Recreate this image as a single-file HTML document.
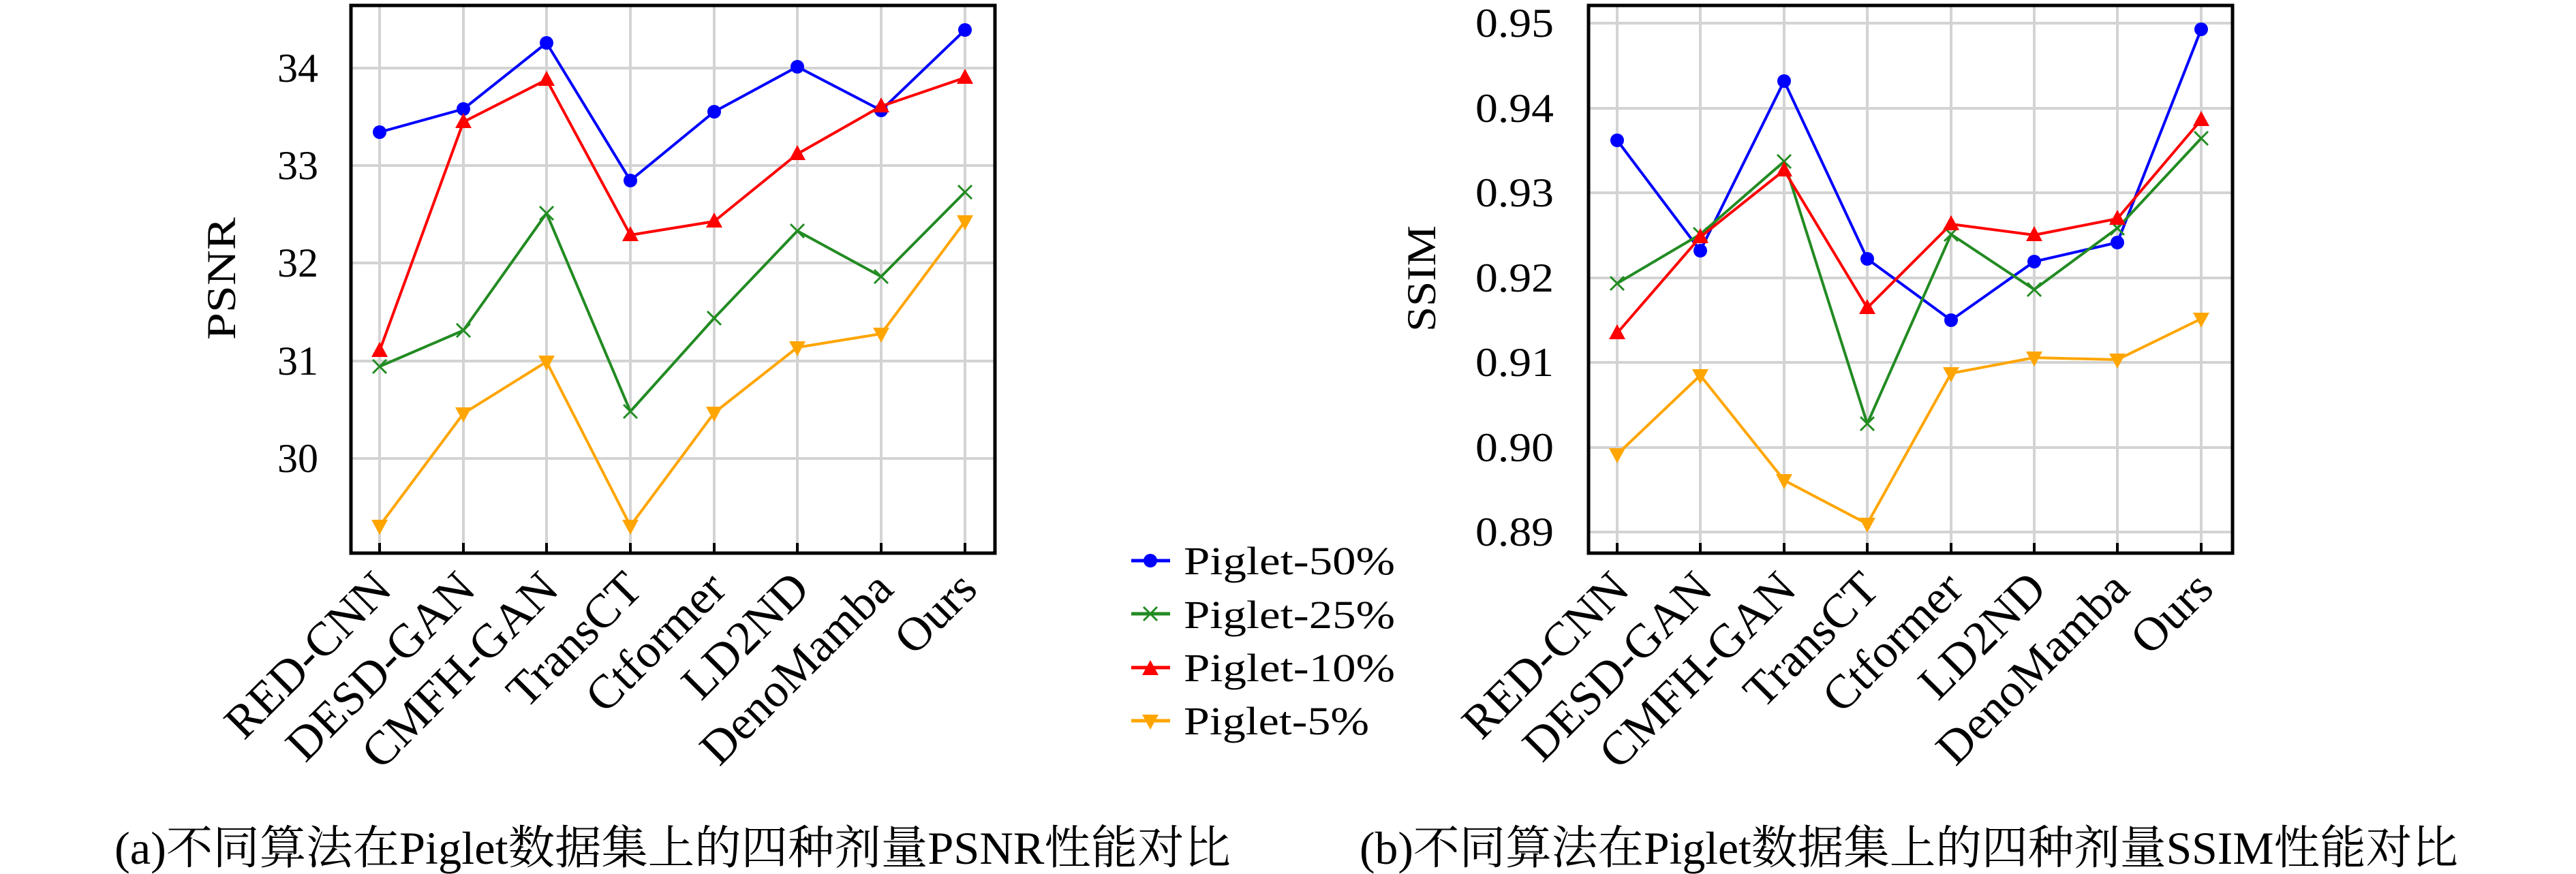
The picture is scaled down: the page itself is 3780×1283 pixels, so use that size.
<!DOCTYPE html>
<html><head><meta charset="utf-8"><style>
html,body{margin:0;padding:0;background:#fff;}
svg{display:block;}
text{font-family:"Liberation Serif","Noto Serif CJK SC",serif;fill:#000;}
</style></head><body>
<svg width="3780" height="1283" viewBox="0 0 3780 1283" xmlns="http://www.w3.org/2000/svg">
<defs>
<circle id="mb" r="10" fill="#0000ff"/>
<g id="mg" stroke="#228b22" stroke-width="3"><line x1="-10" y1="-10" x2="10" y2="10"/><line x1="-10" y1="10" x2="10" y2="-10"/></g>
<polygon id="mr" points="0,-13 12,9 -12,9" fill="#ff0000"/>
<polygon id="my" points="0,13 12,-9 -12,-9" fill="#ffa500"/>
</defs>

<!-- LEFT PLOT -->
<g stroke="#d3d3d3" stroke-width="4">
<line x1="557" y1="8" x2="557" y2="812"/><line x1="680" y1="8" x2="680" y2="812"/><line x1="802" y1="8" x2="802" y2="812"/><line x1="925" y1="8" x2="925" y2="812"/><line x1="1048" y1="8" x2="1048" y2="812"/><line x1="1170" y1="8" x2="1170" y2="812"/><line x1="1293" y1="8" x2="1293" y2="812"/><line x1="1416" y1="8" x2="1416" y2="812"/>
<line x1="515" y1="100" x2="1460" y2="100"/><line x1="515" y1="243" x2="1460" y2="243"/><line x1="515" y1="386" x2="1460" y2="386"/><line x1="515" y1="530" x2="1460" y2="530"/><line x1="515" y1="673" x2="1460" y2="673"/>
</g>
<g fill="none" stroke-width="4" stroke-linejoin="round">
<polyline stroke="#0000ff" points="557,194 680,160 802,63 925,265 1048,164 1170,98 1293,162 1416,44"/>
<polyline stroke="#228b22" points="557,538 680,485 802,313 925,604 1048,467 1170,339 1293,406 1416,282"/>
<polyline stroke="#ff0000" points="557,515 680,179 802,117 925,345 1048,325 1170,226 1293,156 1416,114"/>
<polyline stroke="#ffa500" points="557,772 680,607 802,531 925,772 1048,606 1170,510 1293,490 1416,325"/>
</g>
<use href="#mb" x="557" y="194"/><use href="#mb" x="680" y="160"/><use href="#mb" x="802" y="63"/><use href="#mb" x="925" y="265"/><use href="#mb" x="1048" y="164"/><use href="#mb" x="1170" y="98"/><use href="#mb" x="1293" y="162"/><use href="#mb" x="1416" y="44"/>
<use href="#mg" x="557" y="538"/><use href="#mg" x="680" y="485"/><use href="#mg" x="802" y="313"/><use href="#mg" x="925" y="604"/><use href="#mg" x="1048" y="467"/><use href="#mg" x="1170" y="339"/><use href="#mg" x="1293" y="406"/><use href="#mg" x="1416" y="282"/>
<use href="#mr" x="557" y="515"/><use href="#mr" x="680" y="179"/><use href="#mr" x="802" y="117"/><use href="#mr" x="925" y="345"/><use href="#mr" x="1048" y="325"/><use href="#mr" x="1170" y="226"/><use href="#mr" x="1293" y="156"/><use href="#mr" x="1416" y="114"/>
<use href="#my" x="557" y="772"/><use href="#my" x="680" y="607"/><use href="#my" x="802" y="531"/><use href="#my" x="925" y="772"/><use href="#my" x="1048" y="606"/><use href="#my" x="1170" y="510"/><use href="#my" x="1293" y="490"/><use href="#my" x="1416" y="325"/>
<rect x="515" y="8" width="945" height="804" fill="none" stroke="#000" stroke-width="5"/>
<g stroke="#000" stroke-width="4">
<line x1="557" y1="812" x2="557" y2="797"/><line x1="680" y1="812" x2="680" y2="797"/><line x1="802" y1="812" x2="802" y2="797"/><line x1="925" y1="812" x2="925" y2="797"/><line x1="1048" y1="812" x2="1048" y2="797"/><line x1="1170" y1="812" x2="1170" y2="797"/><line x1="1293" y1="812" x2="1293" y2="797"/><line x1="1416" y1="812" x2="1416" y2="797"/>
</g>
<g font-size="60" text-anchor="end">
<text x="467" y="120">34</text><text x="467" y="263">33</text><text x="467" y="406">32</text><text x="467" y="550">31</text><text x="467" y="693">30</text>
</g>
<text transform="translate(345,409) rotate(-90)" font-size="60" text-anchor="middle" textLength="180" lengthAdjust="spacingAndGlyphs">PSNR</text>
<g font-size="70" text-anchor="end">
<text transform="translate(578,868) rotate(-45)">RED-CNN</text>
<text transform="translate(701,868) rotate(-45)">DESD-GAN</text>
<text transform="translate(823,868) rotate(-45)">CMFH-GAN</text>
<text transform="translate(946,868) rotate(-45)">TransCT</text>
<text transform="translate(1069,868) rotate(-45)">Ctformer</text>
<text transform="translate(1191,868) rotate(-45)">LD2ND</text>
<text transform="translate(1314,868) rotate(-45)">DenoMamba</text>
<text transform="translate(1437,868) rotate(-45)">Ours</text>
</g>

<!-- LEGEND -->
<g stroke-width="5">
<line x1="1660" y1="823" x2="1717" y2="823" stroke="#0000ff"/>
<line x1="1660" y1="901" x2="1717" y2="901" stroke="#228b22"/>
<line x1="1660" y1="980" x2="1717" y2="980" stroke="#ff0000"/>
<line x1="1660" y1="1058" x2="1717" y2="1058" stroke="#ffa500"/>
</g>
<use href="#mb" x="1688" y="823"/><use href="#mg" x="1688" y="901"/><use href="#mr" x="1688" y="982"/><use href="#my" x="1688" y="1058"/>
<g font-size="58">
<text x="1737" y="843" textLength="310" lengthAdjust="spacingAndGlyphs">Piglet-50%</text>
<text x="1737" y="922" textLength="310" lengthAdjust="spacingAndGlyphs">Piglet-25%</text>
<text x="1737" y="1000" textLength="310" lengthAdjust="spacingAndGlyphs">Piglet-10%</text>
<text x="1737" y="1078" textLength="272" lengthAdjust="spacingAndGlyphs">Piglet-5%</text>
</g>

<!-- RIGHT PLOT -->
<g stroke="#d3d3d3" stroke-width="4">
<line x1="2373" y1="8" x2="2373" y2="812"/><line x1="2495" y1="8" x2="2495" y2="812"/><line x1="2618" y1="8" x2="2618" y2="812"/><line x1="2740" y1="8" x2="2740" y2="812"/><line x1="2863" y1="8" x2="2863" y2="812"/><line x1="2985" y1="8" x2="2985" y2="812"/><line x1="3107" y1="8" x2="3107" y2="812"/><line x1="3230" y1="8" x2="3230" y2="812"/>
<line x1="2331" y1="34" x2="3276" y2="34"/><line x1="2331" y1="159" x2="3276" y2="159"/><line x1="2331" y1="283" x2="3276" y2="283"/><line x1="2331" y1="408" x2="3276" y2="408"/><line x1="2331" y1="532" x2="3276" y2="532"/><line x1="2331" y1="657" x2="3276" y2="657"/><line x1="2331" y1="781" x2="3276" y2="781"/>
</g>
<g fill="none" stroke-width="4" stroke-linejoin="round">
<polyline stroke="#0000ff" points="2373,206 2495,368 2618,119 2740,380 2863,470 2985,384 3107,356 3230,43"/>
<polyline stroke="#228b22" points="2373,416 2495,344 2618,237 2740,622 2863,344 2985,425 3107,335 3230,203"/>
<polyline stroke="#ff0000" points="2373,489 2495,348 2618,250 2740,452 2863,329 2985,345 3107,321 3230,176"/>
<polyline stroke="#ffa500" points="2373,667 2495,551 2618,705 2740,769 2863,548 2985,525 3107,528 3230,468"/>
</g>
<use href="#mb" x="2373" y="206"/><use href="#mb" x="2495" y="368"/><use href="#mb" x="2618" y="119"/><use href="#mb" x="2740" y="380"/><use href="#mb" x="2863" y="470"/><use href="#mb" x="2985" y="384"/><use href="#mb" x="3107" y="356"/><use href="#mb" x="3230" y="43"/>
<use href="#mg" x="2373" y="416"/><use href="#mg" x="2495" y="344"/><use href="#mg" x="2618" y="237"/><use href="#mg" x="2740" y="622"/><use href="#mg" x="2863" y="344"/><use href="#mg" x="2985" y="425"/><use href="#mg" x="3107" y="335"/><use href="#mg" x="3230" y="203"/>
<use href="#mr" x="2373" y="489"/><use href="#mr" x="2495" y="348"/><use href="#mr" x="2618" y="250"/><use href="#mr" x="2740" y="452"/><use href="#mr" x="2863" y="329"/><use href="#mr" x="2985" y="345"/><use href="#mr" x="3107" y="321"/><use href="#mr" x="3230" y="176"/>
<use href="#my" x="2373" y="667"/><use href="#my" x="2495" y="551"/><use href="#my" x="2618" y="705"/><use href="#my" x="2740" y="769"/><use href="#my" x="2863" y="548"/><use href="#my" x="2985" y="525"/><use href="#my" x="3107" y="528"/><use href="#my" x="3230" y="468"/>
<rect x="2331" y="8" width="945" height="804" fill="none" stroke="#000" stroke-width="5"/>
<g stroke="#000" stroke-width="4">
<line x1="2373" y1="812" x2="2373" y2="797"/><line x1="2495" y1="812" x2="2495" y2="797"/><line x1="2618" y1="812" x2="2618" y2="797"/><line x1="2740" y1="812" x2="2740" y2="797"/><line x1="2863" y1="812" x2="2863" y2="797"/><line x1="2985" y1="812" x2="2985" y2="797"/><line x1="3107" y1="812" x2="3107" y2="797"/><line x1="3230" y1="812" x2="3230" y2="797"/>
</g>
<g font-size="60" text-anchor="end">
<text x="2280" y="54" textLength="115" lengthAdjust="spacingAndGlyphs">0.95</text>
<text x="2280" y="179" textLength="115" lengthAdjust="spacingAndGlyphs">0.94</text>
<text x="2280" y="303" textLength="115" lengthAdjust="spacingAndGlyphs">0.93</text>
<text x="2280" y="428" textLength="115" lengthAdjust="spacingAndGlyphs">0.92</text>
<text x="2280" y="552" textLength="115" lengthAdjust="spacingAndGlyphs">0.91</text>
<text x="2280" y="677" textLength="115" lengthAdjust="spacingAndGlyphs">0.90</text>
<text x="2280" y="801" textLength="115" lengthAdjust="spacingAndGlyphs">0.89</text>
</g>
<text transform="translate(2106,409) rotate(-90)" font-size="60" text-anchor="middle" textLength="156" lengthAdjust="spacingAndGlyphs">SSIM</text>
<g font-size="70" text-anchor="end">
<text transform="translate(2394,868) rotate(-45)">RED-CNN</text>
<text transform="translate(2516,868) rotate(-45)">DESD-GAN</text>
<text transform="translate(2639,868) rotate(-45)">CMFH-GAN</text>
<text transform="translate(2761,868) rotate(-45)">TransCT</text>
<text transform="translate(2884,868) rotate(-45)">Ctformer</text>
<text transform="translate(3006,868) rotate(-45)">LD2ND</text>
<text transform="translate(3128,868) rotate(-45)">DenoMamba</text>
<text transform="translate(3251,868) rotate(-45)">Ours</text>
</g>

<!-- CAPTIONS -->
<text x="168" y="1268" font-size="68" textLength="1638" lengthAdjust="spacingAndGlyphs">(a)不同算法在Piglet数据集上的四种剂量PSNR性能对比</text>
<text x="1995" y="1268" font-size="68" textLength="1612" lengthAdjust="spacingAndGlyphs">(b)不同算法在Piglet数据集上的四种剂量SSIM性能对比</text>
</svg>
</body></html>
